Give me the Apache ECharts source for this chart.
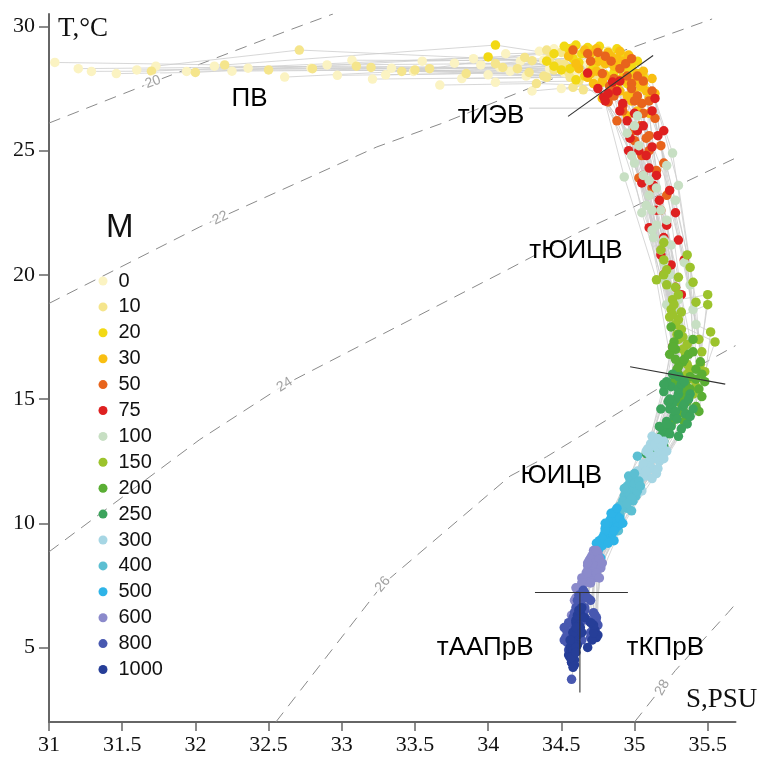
<!DOCTYPE html>
<html><head><meta charset="utf-8">
<script src="https://cdn.jsdelivr.net/npm/echarts@6/dist/echarts.min.js"></script>
<style>html,body{margin:0;padding:0;background:#fff}#c{width:765px;height:762px}</style>
</head><body><div id="c"></div>
<script>
// ---- depth classes (legend) ----
const depthLabels = ['0','10','20','30','50','75','100','150','200','250','300','400','500','600','800','1000'];
const depthColors = ['#fbf3c2','#f5e58c','#f2d914','#f9bf12','#e8641c','#de2020','#c7dfc3','#9cc32c','#5aae34','#3ca45c','#a6d6e4','#5cbfd2','#2eb4e8','#8b8acb','#4858b0','#263e98'];

// ---- station values [S, T] per depth level (index = station) ----
const d0 = [[31.04,28.55],[31.29,28.19],[31.46,28.10],[31.73,28.40],[31.94,28.19],[32.13,28.40],[32.36,28.32],[32.61,27.96],[32.79,28.32],[32.97,28.03],[33.07,28.64],[33.21,27.88],[33.34,28.32],[33.49,28.19],[33.67,27.64],[33.77,28.52],[33.95,28.45],[34.05,27.75],[34.15,28.20],[34.22,28.60],[34.30,27.40],[34.35,29.00],[34.42,28.30],[34.50,27.50],[34.55,28.80],[34.60,28.10],[34.68,28.50],[34.12,28.90],[34.00,28.05],[33.90,28.70],[34.45,29.10],[34.72,27.90],
  [31.20,28.30],[31.60,28.25],[32.25,28.20],[32.90,28.45],[33.30,28.05],[33.55,28.60],[33.82,27.90],[34.08,28.35],[34.26,28.00],[34.38,28.65],[34.52,28.15],[34.62,28.85]];
const d10 = [[32.20,28.45],[31.70,28.20],[32.00,28.15],[32.71,29.05],[32.50,28.25],[33.20,28.35],[33.60,28.30],[33.41,28.19],[34.10,28.35],[33.85,28.10],[34.30,28.62],[34.40,27.95],[34.20,28.30],[34.55,28.15],[34.33,27.70],[34.48,28.50],[34.52,28.48],[34.62,27.80],[34.45,28.25],[34.60,28.72],[34.58,27.55],[34.40,29.05],[34.70,28.35],[34.65,27.45],[34.66,28.90],[34.74,28.05],[34.80,28.55],[34.50,28.95],[34.38,28.00],[34.25,28.75],[34.58,29.15],[34.85,27.85],
  [33.10,28.40],[32.80,28.30],[33.50,28.25],[34.05,28.50],[34.28,28.15],[34.42,28.70],[34.56,27.95],[34.60,28.40],[34.68,28.10],[34.72,28.75],[34.76,28.30],[34.82,29.00]];
const d20 = [[34.05,29.25],[34.00,28.77],[34.45,28.90],[34.62,28.55],[34.70,28.20],[34.85,27.90],[34.55,29.10],[34.90,28.40],[34.95,27.70],[34.80,28.65],[34.60,27.85],[34.75,28.95],[35.00,28.10],[34.68,29.15],[34.88,27.60],[34.40,28.60],[34.72,28.40],[34.93,28.80],[34.50,28.25],[35.05,27.55],[34.78,27.75],[34.64,28.90],[34.98,28.35],[34.83,27.35],[34.58,28.70],[34.92,27.95],[34.70,29.05],[34.52,29.20],[34.86,28.15],[34.45,28.40],[34.76,29.20],[35.02,28.60],
  [34.56,28.30],[34.66,28.00],[34.74,28.55],[34.82,28.85],[34.90,27.85],[34.60,29.25],[34.96,28.20],[34.80,28.05],[35.00,27.80],[34.88,29.10],[34.94,28.45],[35.06,28.00]];
const d30 = [[34.55,28.80],[34.62,28.30],[34.70,28.90],[34.80,28.00],[34.85,27.50],[34.95,27.20],[34.75,28.60],[35.00,27.80],[35.05,26.90],[34.90,28.30],[34.78,27.10],[34.88,28.70],[35.08,27.40],[34.82,28.95],[35.02,26.60],[34.60,28.50],[34.92,27.90],[35.06,28.20],[34.72,27.70],[35.10,26.50],[34.98,27.00],[34.80,28.50],[35.04,27.60],[34.95,26.40],[34.74,28.20],[35.00,27.30],[34.84,28.80],[34.66,29.05],[34.96,27.75],[34.68,27.95],[34.90,29.00],[35.12,27.90],
  [34.70,28.10],[34.78,27.80],[34.86,28.40],[34.92,28.60],[35.00,27.20],[34.74,29.10],[35.06,27.70],[34.90,27.40],[35.10,27.10],[34.96,28.85],[35.02,28.10],[35.14,27.30]];
const d50 = [[34.58,29.05],[34.70,28.60],[34.78,28.10],[34.85,27.40],[34.92,26.60],[35.00,25.80],[34.80,28.80],[35.05,26.90],[35.10,25.00],[34.98,27.70],[34.88,26.20],[35.02,27.20],[35.15,24.20],[34.90,28.30],[35.12,23.50],[34.68,28.90],[35.04,26.00],[35.10,27.00],[34.83,27.60],[35.18,22.60],[35.05,24.80],[34.95,28.00],[35.08,25.50],[35.03,23.90],[34.86,27.90],[35.06,26.50],[34.94,28.50],[34.75,28.95],[35.00,27.00],[34.82,26.96],[34.98,28.70],[35.20,24.50],
  [34.86,27.20],[34.92,26.80],[34.98,27.50],[35.02,28.00],[35.10,25.60],[34.84,28.60],[35.14,26.30],[35.00,25.40],[35.18,25.20],[35.06,27.80],[35.12,27.40],[35.22,23.20]];
const d75 = [[34.68,28.12],[34.85,27.76],[34.79,27.16],[34.82,27.30],[34.90,26.60],[35.02,25.80],[34.75,27.50],[35.10,24.30],[35.17,23.00],[34.95,26.20],[35.05,23.70],[35.12,25.15],[35.20,21.50],[34.97,25.50],[35.25,20.40],[34.80,27.00],[35.15,22.60],[35.08,24.80],[35.00,26.50],[35.28,19.50],[35.22,22.00],[35.03,25.00],[35.18,21.00],[35.26,17.10],[34.92,26.90],[35.13,23.60],[35.06,26.00],[34.88,27.40],[35.10,21.90],[35.20,20.00],[35.15,24.00],[35.32,19.20],
  [34.96,25.00],[35.06,24.00],[35.12,26.60],[35.16,25.60],[35.24,23.40],[34.90,27.80],[35.28,22.50],[35.18,20.80],[35.30,21.40],[35.14,27.10],[35.20,25.80],[35.34,20.60]];
const d100 = [[34.95,25.70],[35.00,24.50],[34.93,23.94],[35.10,23.80],[35.05,22.50],[35.12,21.80],[34.98,24.80],[35.20,20.50],[35.25,19.50],[35.08,22.80],[35.18,21.00],[35.22,22.20],[35.28,18.50],[35.15,22.00],[35.32,17.80],[35.03,25.20],[35.24,20.00],[35.18,22.60],[35.10,23.20],[35.35,17.00],[35.30,19.00],[35.13,21.50],[35.26,18.20],[35.30,16.50],[35.06,24.00],[35.20,19.80],[35.15,23.50],[35.00,26.00],[35.22,18.80],[35.30,18.00],[35.25,21.20],[35.38,17.40],
  [35.12,22.60],[35.20,21.40],[35.22,24.40],[35.28,23.00],[35.34,20.50],[35.02,26.40],[35.38,19.60],[35.28,19.10],[35.40,18.60],[35.26,24.90],[35.30,23.60],[35.42,18.00]];
const d150 = [[35.18,21.00],[35.22,20.20],[35.15,19.80],[35.28,19.50],[35.25,18.60],[35.30,18.20],[35.20,20.60],[35.33,17.50],[35.35,16.80],[35.26,19.00],[35.32,17.80],[35.30,19.20],[35.38,16.20],[35.28,18.00],[35.40,15.80],[35.22,19.60],[35.36,17.20],[35.32,18.50],[35.27,18.80],[35.42,15.50],[35.50,19.20],[35.29,17.60],[35.50,18.80],[35.40,15.20],[35.24,18.30],[35.34,16.50],[35.30,19.90],[35.20,21.30],[35.36,16.00],[35.55,17.30],[35.33,17.00],[35.45,16.40],
  [35.26,18.40],[35.30,17.40],[35.36,20.80],[35.40,19.70],[35.44,17.40],[35.20,20.00],[35.46,16.90],[35.36,16.40],[35.48,16.10],[35.38,20.30],[35.42,18.90],[35.52,17.70]];
const d200 = [[35.30,17.60],[35.28,17.00],[35.24,16.80],[35.33,16.50],[35.30,16.00],[35.35,15.60],[35.27,17.30],[35.36,15.20],[35.32,14.80],[35.30,16.30],[35.34,15.40],[35.34,16.60],[35.30,14.40],[35.32,15.80],[35.28,14.20],[35.26,17.10],[35.36,14.90],[35.38,15.90],[35.29,16.20],[35.25,14.00],[35.45,16.50],[35.31,15.10],[35.42,15.80],[35.22,13.80],[35.27,15.70],[35.33,14.60],[35.37,16.80],[35.25,17.90],[35.30,15.00],[35.44,15.40],[35.38,15.40],[35.35,14.40],
  [35.30,15.80],[35.34,15.00],[35.40,17.40],[35.42,16.20],[35.46,15.10],[35.28,16.60],[35.42,14.70],[35.34,14.10],[35.44,14.50],[35.40,16.90],[35.46,16.00],[35.48,15.70]];
const d250 = [[35.30,15.90],[35.25,15.50],[35.20,15.30],[35.28,15.00],[35.24,14.60],[35.27,14.30],[35.22,15.70],[35.25,13.90],[35.18,13.50],[35.26,14.80],[35.22,14.10],[35.30,15.20],[35.15,13.20],[35.28,14.50],[35.12,13.00],[35.20,15.60],[35.21,13.70],[35.33,14.70],[35.23,14.90],[35.10,12.90],[35.38,15.20],[35.19,13.80],[35.35,14.40],[35.08,12.80],[35.18,14.60],[35.16,13.40],[35.30,15.40],[35.26,16.00],[35.17,13.90],[35.36,14.00],[35.29,14.20],[35.20,13.30],
  [35.22,14.00],[35.24,13.60],[35.32,15.60],[35.34,14.80],[35.38,14.30],[35.24,15.00],[35.32,13.80],[35.20,13.10],[35.30,13.50],[35.34,15.70],[35.37,15.00],[35.40,14.60]];
const d300 = [[35.15,13.40],[35.12,13.10],[35.08,12.90],[35.14,12.70],[35.10,12.40],[35.12,12.20],[35.11,13.20],[35.08,12.00],[35.02,11.60],[35.13,12.60],[35.05,11.90],[35.16,13.00],[35.00,11.40],[35.10,12.50],[34.97,11.20],[35.09,13.00],[35.04,11.80],[35.18,12.80],[35.09,12.30],[34.95,11.10],[35.20,13.30],[35.03,11.70],[35.17,12.50],[34.94,11.00],[35.06,12.20],[35.00,11.50],[35.13,13.30],[35.12,13.50],[35.02,12.10],[35.15,12.00],[35.07,11.90],[35.05,11.30],
  [35.06,12.40],[35.08,12.10],[35.14,13.20],[35.18,13.00],[35.20,12.60],[35.10,12.80],[35.16,12.20],[35.04,11.50],[35.12,11.80],[35.16,13.40],[35.19,13.10],[35.22,12.90]];
const d400 = [[34.98,11.60],[34.96,11.40],[34.93,11.10],[34.97,11.00],[34.94,10.80],[34.95,10.60],[34.95,11.50],[34.90,10.40],[34.86,10.00],[34.96,11.20],[34.88,10.30],[35.00,11.40],[34.84,9.80],[34.93,10.90],[34.81,9.60],[34.94,11.30],[34.87,10.20],[35.01,11.10],[34.92,10.70],[34.80,9.50],[35.02,12.70],[34.88,10.10],[34.99,10.90],[34.79,9.40],[34.91,10.60],[34.85,9.90],[34.97,11.70],[34.96,11.90],[34.87,10.50],[34.98,10.50],[34.90,10.30],[34.89,9.70],
  [34.92,10.90],[34.90,10.70],[34.98,11.80],[35.00,11.60],[35.02,11.30],[34.93,11.40],[34.98,11.00],[34.86,10.40],[34.95,10.80],[35.00,12.00],[35.03,11.70],[35.04,11.50]];
const d500 = [[34.85,10.20],[34.83,10.00],[34.80,9.80],[34.84,9.70],[34.81,9.50],[34.82,9.40],[34.83,10.10],[34.78,9.20],[34.75,8.90],[34.83,9.90],[34.76,9.10],[34.86,10.00],[34.73,8.70],[34.80,9.60],[34.71,8.50],[34.82,10.00],[34.75,9.00],[34.87,9.80],[34.79,9.50],[34.70,8.40],[34.88,10.30],[34.76,9.00],[34.85,9.60],[34.69,8.30],[34.79,9.30],[34.74,8.80],[34.84,10.20],[34.84,10.40],[34.76,9.30],[34.86,9.30],[34.78,9.10],[34.77,8.60],
  [34.80,9.70],[34.78,9.40],[34.85,10.40],[34.88,10.10],[34.89,9.90],[34.80,10.00],[34.86,9.70],[34.74,9.20],[34.82,9.20],[34.88,10.60],[34.90,10.20],[34.92,10.00]];
const d600 = [[34.72,8.70],[34.70,8.50],[34.68,8.30],[34.71,8.20],[34.68,8.00],[34.69,7.90],[34.70,8.60],[34.66,7.70],[34.57,6.30],[34.70,8.40],[34.65,7.60],[34.73,8.50],[34.62,7.20],[34.68,8.10],[34.60,7.00],[34.69,8.50],[34.64,7.50],[34.74,8.30],[34.67,8.00],[34.59,6.90],[34.75,8.80],[34.64,7.50],[34.72,8.10],[34.56,5.80],[34.66,7.80],[34.62,7.30],[34.71,8.70],[34.72,8.90],[34.64,7.80],[34.72,7.80],[34.66,7.60],[34.66,7.10],
  [34.68,8.00],[34.64,7.60],[34.72,8.40],[34.76,8.60],[34.77,8.20],[34.68,8.40],[34.74,8.00],[34.60,7.40],[34.70,7.60],[34.74,8.90],[34.78,8.40],[34.76,7.80]];
const d800 = [[34.64,7.00],[34.62,6.80],[34.60,6.60],[34.66,6.50],[34.58,6.20],[34.63,6.30],[34.61,6.90],[34.55,6.00],[34.53,5.40],[34.64,6.70],[34.52,5.80],[34.72,6.40],[34.56,5.20],[34.60,6.40],[34.55,4.90],[34.62,7.10],[34.58,5.70],[34.74,6.00],[34.60,6.10],[34.58,4.60],[34.75,5.90],[34.57,5.60],[34.70,5.60],[34.57,4.40],[34.63,6.00],[34.52,5.30],[34.66,7.20],[34.65,7.30],[34.59,6.40],[34.72,5.80],[34.62,5.80],[34.57,3.72],
  [34.60,6.20],[34.54,5.60],[34.66,6.60],[34.70,6.90],[34.74,6.20],[34.62,6.60],[34.68,6.10],[34.54,5.20],[34.64,5.30],[34.68,7.00],[34.73,6.30],[34.70,5.40]];
const d1000 = [[34.62,6.20],[34.60,6.00],[34.58,5.60],[34.63,5.80],[34.57,5.10],[34.61,5.50],[34.60,6.10],[34.56,5.00],[34.55,4.70],[34.62,5.90],[34.56,4.90],[34.73,5.70],[34.58,4.60],[34.59,5.40],[34.57,4.40],[34.61,6.30],[34.58,4.80],[34.74,5.40],[34.60,5.20],[34.59,4.30],[34.75,5.50],[34.58,4.90],[34.71,5.30],[34.58,4.20],[34.61,5.10],[34.56,4.60],[34.63,6.40],[34.62,6.50],[34.58,5.20],[34.72,5.60],[34.60,5.00],[34.59,4.50],
  [34.58,5.60],[34.56,5.30],[34.62,5.80],[34.66,6.20],[34.72,5.90],[34.60,5.80],[34.64,5.60],[34.57,4.60],[34.60,4.80],[34.64,6.60],[34.70,6.00],[34.68,5.00]];
const depthData = [d0,d10,d20,d30,d50,d75,d100,d150,d200,d250,d300,d400,d500,d600,d800,d1000];

// ---- axes ----
const xTicks = [31,31.5,32,32.5,33,33.5,34,34.5,35,35.5];
const yTicks = [5,10,15,20,25,30];

// ---- sigma-t isolines [S, T] ----
const iso20 = [[31.0,26.11],[31.71,27.76],[32.64,29.85],[32.94,30.5]];
const iso22 = [[31.0,18.85],[32.03,21.93],[33.24,25.15],[33.69,26.11],[34.88,28.93],[35.53,30.3]];
const iso24 = [[31.0,8.85],[32.03,13.37],[32.61,15.58],[34.13,20.2],[34.61,21.69],[34.95,22.61],[35.59,24.42],[35.69,24.7]];
const iso26 = [[32.55,2.0],[33.28,7.54],[34.15,11.9],[34.4,12.68],[35.15,15.38],[35.69,17.15]];
const iso28 = [[35.0,2.0],[35.28,4.08],[35.64,6.41],[35.69,6.75]];
const isoLines = [iso20, iso22, iso24, iso26, iso28];
const isoLabels = ['20','22','24','26','28'];
const isoLabelAt = [[31.71,27.76],[32.17,22.29],[32.61,15.58],[33.28,7.54],[35.19,3.39]];

// ---- water mass boundaries [S, T] ----
const boundIEV = [[34.546,26.38],[35.127,28.83]];
const boundUICV = [[34.97,16.3],[35.62,15.6]];
const crossH = [[34.32,7.21],[34.955,7.21]];
const crossV = [[34.627,7.21],[34.627,3.19]];
const leaderIEV = [[34.28,26.71],[34.78,26.71]];

// ---- water mass names ----
const massNames = ['ПВ','тИЭВ','тЮИЦВ','ЮИЦВ','тААПрВ','тКПрВ'];
const massAt = [[32.37,27.07],[34.02,26.39],[34.6,20.97],[34.5,11.9],[33.98,5.0],[35.21,5.0]];

// ================= build chart =================
const sans = 'Liberation Sans, Arial, sans-serif';
const serif = 'Liberation Serif, Times New Roman, serif';
const isoRot = [20, 26, 32, 50, 60];
const series = [];
isoLines.forEach((d) => series.push({
  type: 'line', data: d, showSymbol: false, silent: true, z: 1,
  lineStyle: { color: '#8a8a8a', width: 1, type: [12, 8] }
}));
series.push({
  type: 'scatter', silent: true, z: 6, symbolSize: 0,
  data: isoLabelAt.map((p, k) => ({ value: p, name: isoLabels[k], label: { rotate: isoRot[k] } })),
  label: { show: true, position: 'inside', formatter: '{b}', color: '#8a8a8a', fontSize: 14,
    fontFamily: sans, backgroundColor: '#fff', padding: [0, 2], textBorderWidth: 0 }
});
const nSt = d0.length;
for (let i = 0; i < nSt; i++) {
  series.push({
    type: 'line', data: depthData.map(d => d[i]), showSymbol: false, silent: true, z: 2,
    lineStyle: { color: '#cdcdcd', width: 0.8 }
  });
}
series.push({ type: 'line', data: leaderIEV, showSymbol: false, silent: true, z: 2,
  lineStyle: { color: '#bdbdbd', width: 0.8 } });
depthData.forEach((d, k) => series.push({
  type: 'scatter', name: depthLabels[k], data: d, symbolSize: 9.5, silent: true, z: 3,
  itemStyle: { color: depthColors[k], opacity: 1 }
}));
[boundIEV, boundUICV, crossH, crossV].forEach(d => series.push({
  type: 'line', data: d, showSymbol: false, silent: true, z: 5,
  lineStyle: { color: '#333', width: 1.1 }
}));
series.push({
  type: 'scatter', silent: true, z: 7, symbolSize: 0,
  data: massAt.map((p, k) => ({ value: p, name: massNames[k] })),
  itemStyle: { opacity: 1 },
  label: { show: true, position: 'inside', formatter: '{b}', color: '#000', fontSize: 26,
    fontFamily: sans, textBorderWidth: 0, opacity: 1 }
});

const option = {
  animation: false,
  backgroundColor: '#fff',
  grid: { left: 49, right: 29.5, top: 14, bottom: 40, containLabel: false, outerBoundsMode: 'none' },
  xAxis: {
    type: 'value', min: 31, max: 35.69,
    axisLine: { show: true, lineStyle: { color: '#666', width: 2 } },
    axisTick: { show: true, length: 9, customValues: xTicks, lineStyle: { color: '#666', width: 1.5 } },
    axisLabel: { customValues: xTicks, color: '#111', fontSize: 22, fontFamily: serif, margin: 12,
      formatter: v => String(v) },
    splitLine: { show: false }
  },
  yAxis: {
    type: 'value', min: 2, max: 30.5,
    axisLine: { show: true, lineStyle: { color: '#666', width: 2 } },
    axisTick: { show: true, length: 10, customValues: yTicks, lineStyle: { color: '#666', width: 1.5 } },
    axisLabel: { customValues: yTicks, color: '#111', fontSize: 22, fontFamily: serif, margin: 14,
      formatter: v => String(v) },
    splitLine: { show: false }
  },
  legend: {
    data: depthLabels, orient: 'vertical', left: 93.5, top: 266,
    icon: 'circle', itemWidth: 9, itemHeight: 9, itemGap: 5.9, selectedMode: false,
    textStyle: { fontSize: 20, lineHeight: 20, color: '#111', fontFamily: sans, padding: [0, 0, 0, 6] }
  },
  graphic: [
    { type: 'text', left: 106, top: 211, silent: true,
      style: { text: 'M', fontSize: 33, fill: '#111', fontFamily: sans } },
    { type: 'text', left: 58, top: 15, silent: true,
      style: { text: 'T,°C', fontSize: 27, fill: '#111', fontFamily: serif } },
    { type: 'text', left: 686, top: 686, silent: true,
      style: { text: 'S,PSU', fontSize: 27, fill: '#111', fontFamily: serif } }
  ],
  series
};
const chart = echarts.init(document.getElementById('c'), null, { renderer: 'canvas' });
chart.setOption(option);
</script>
</body></html>
